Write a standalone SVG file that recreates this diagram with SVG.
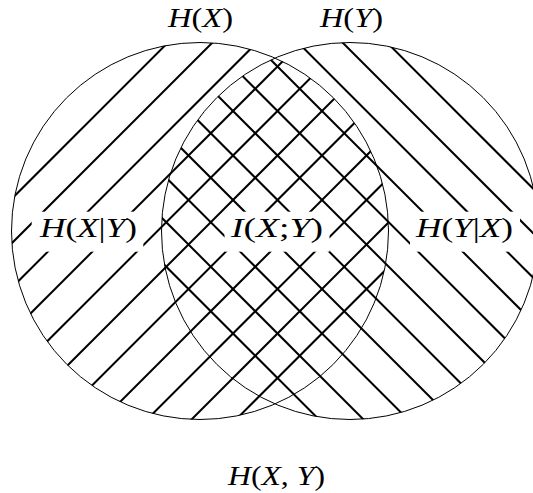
<svg xmlns="http://www.w3.org/2000/svg" width="533" height="493" viewBox="0 0 533 493">
<style>
.hatch line{stroke:#000;stroke-width:2;fill:none}
.outline{fill:none;stroke:#000;stroke-width:1}
.box{fill:#fff;stroke:none}
.lbl{font-family:"Liberation Serif","Times New Roman",serif;font-size:27px;fill:#000}
.it{font-style:italic}
</style>
<defs>
<clipPath id="clipX"><circle cx="200" cy="231" r="188.5"/></clipPath>
<clipPath id="clipY"><circle cx="350" cy="231" r="188.5"/></clipPath>
</defs>
<rect x="0" y="0" width="533" height="493" fill="#fff"/>
<g id="hatch-X" class="hatch" clip-path="url(#clipX)">
<line x1="-229.5" y1="440" x2="190.5" y2="20"/>
<line x1="-185" y1="440" x2="235" y2="20"/>
<line x1="-140.5" y1="440" x2="279.5" y2="20"/>
<line x1="-96" y1="440" x2="324" y2="20"/>
<line x1="-51.5" y1="440" x2="368.5" y2="20"/>
<line x1="-7" y1="440" x2="413" y2="20"/>
<line x1="37.5" y1="440" x2="457.5" y2="20"/>
<line x1="82" y1="440" x2="502" y2="20"/>
<line x1="126.5" y1="440" x2="546.5" y2="20"/>
<line x1="171" y1="440" x2="591" y2="20"/>
<line x1="215.5" y1="440" x2="635.5" y2="20"/>
</g>
<g id="hatch-Y" class="hatch" clip-path="url(#clipY)">
<line x1="364.5" y1="20" x2="784.5" y2="440"/>
<line x1="320" y1="20" x2="740" y2="440"/>
<line x1="275.5" y1="20" x2="695.5" y2="440"/>
<line x1="231" y1="20" x2="651" y2="440"/>
<line x1="186.5" y1="20" x2="606.5" y2="440"/>
<line x1="142" y1="20" x2="562" y2="440"/>
<line x1="97.5" y1="20" x2="517.5" y2="440"/>
<line x1="53" y1="20" x2="473" y2="440"/>
<line x1="8.5" y1="20" x2="428.5" y2="440"/>
<line x1="-36" y1="20" x2="384" y2="440"/>
<line x1="-80.5" y1="20" x2="339.5" y2="440"/>
</g>
<g id="set-X">
<circle class="outline" cx="200" cy="231" r="188.5"/>
</g>
<g id="set-Y">
<circle class="outline" cx="350" cy="231" r="188.5"/>
</g>
<g id="label-HX">
<text class="lbl" x="168" y="27" textLength="65" lengthAdjust="spacingAndGlyphs"><tspan class="it">H</tspan>(<tspan class="it">X</tspan>)</text>
</g>
<g id="label-HY">
<text class="lbl" x="320" y="27" textLength="63" lengthAdjust="spacingAndGlyphs"><tspan class="it">H</tspan>(<tspan class="it">Y</tspan>)</text>
</g>
<g id="label-HXgY">
<rect class="box" x="31.7" y="211.7" width="111.6" height="40"/>
<text class="lbl" x="40" y="237" textLength="97" lengthAdjust="spacingAndGlyphs"><tspan class="it">H</tspan>(<tspan class="it">X</tspan>|<tspan class="it">Y</tspan>)</text>
</g>
<g id="label-IXY">
<rect class="box" x="224.5" y="211.7" width="105" height="40"/>
<text class="lbl" x="231" y="237" textLength="92" lengthAdjust="spacingAndGlyphs"><tspan class="it">I</tspan>(<tspan class="it">X</tspan>;<tspan class="it">Y</tspan>)</text>
</g>
<g id="label-HYgX">
<rect class="box" x="410" y="211.7" width="110" height="40"/>
<text class="lbl" x="416" y="237" textLength="97" lengthAdjust="spacingAndGlyphs"><tspan class="it">H</tspan>(<tspan class="it">Y</tspan>|<tspan class="it">X</tspan>)</text>
</g>
<g id="label-HXY">
<text class="lbl" x="228" y="485" textLength="97" lengthAdjust="spacingAndGlyphs"><tspan class="it">H</tspan>(<tspan class="it">X</tspan>, <tspan class="it">Y</tspan>)</text>
</g>
</svg>
